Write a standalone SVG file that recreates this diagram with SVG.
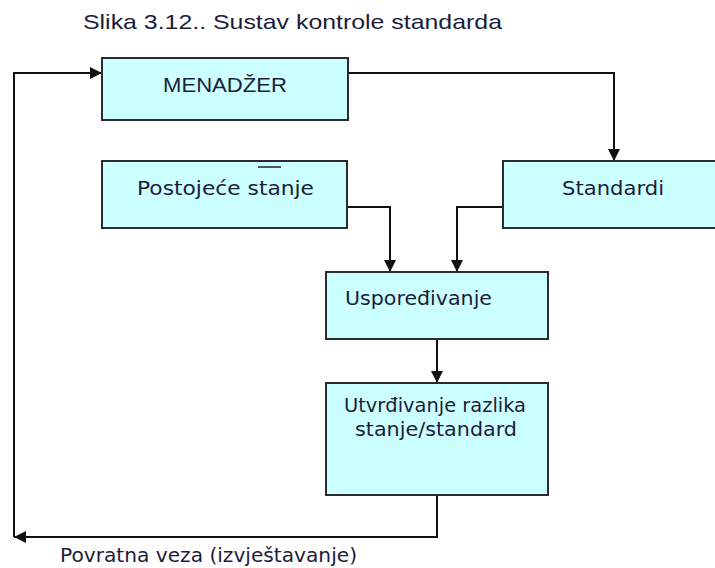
<svg xmlns="http://www.w3.org/2000/svg" width="715" height="568" viewBox="0 0 715 568">
<style>
.box{fill:#ccffff;stroke:#2b2b2b;stroke-width:2}
.lbl{font-family:"DejaVu Sans","Liberation Sans",sans-serif;font-size:20px;fill:#1c1c3c}
.sans{font-family:"Liberation Sans",Arial,sans-serif;font-size:21px;fill:#1c1c3c}
.con{fill:none;stroke:#111;stroke-width:2}
</style>
<defs>
<marker id="ah" viewBox="0 0 12 12" refX="12" refY="6" markerWidth="12" markerHeight="12" markerUnits="userSpaceOnUse" orient="auto">
<path d="M0,0 L12,6 L0,12 Z" fill="#111"/>
</marker>
</defs>
<rect width="715" height="568" fill="#fff"/>
<text class="sans" x="83" y="29" font-size="22" textLength="419" lengthAdjust="spacingAndGlyphs">Slika 3.12.. Sustav kontrole standarda</text>
<g id="connectors">
<path class="con" d="M14,537 L14,73 L102,73" marker-end="url(#ah)"/>
<path class="con" d="M348,73 L614,73 L614,161" marker-end="url(#ah)"/>
<path class="con" d="M347,207 L390,207 L390,272" marker-end="url(#ah)"/>
<path class="con" d="M503,207 L457,207 L457,272" marker-end="url(#ah)"/>
<path class="con" d="M437,339 L437,383" marker-end="url(#ah)"/>
<path class="con" d="M437,495 L437,537 L14,537" marker-end="url(#ah)"/>
</g>
<g id="menadzer">
<rect class="box" x="102" y="58" width="246" height="62"/>
<text class="sans" x="163" y="92" textLength="124" lengthAdjust="spacingAndGlyphs">MENADŽER</text>
</g>
<g id="postojece">
<rect class="box" x="102" y="161" width="245" height="67"/>
<line x1="258" y1="167" x2="281" y2="167" stroke="#222" stroke-width="1.5"/>
<text class="lbl" x="137" y="195" textLength="177" lengthAdjust="spacingAndGlyphs">Postojeće stanje</text>
</g>
<g id="standardi">
<rect class="box" x="503" y="161" width="214" height="67"/>
<text class="lbl" x="562" y="195" textLength="102" lengthAdjust="spacingAndGlyphs">Standardi</text>
</g>
<g id="usporedjivanje">
<rect class="box" x="326" y="272" width="222" height="67"/>
<text class="lbl" x="345" y="305" textLength="147" lengthAdjust="spacingAndGlyphs">Uspoređivanje</text>
</g>
<g id="utvrdjivanje">
<rect class="box" x="326" y="383" width="222" height="112"/>
<text class="lbl" x="344" y="412" textLength="182" lengthAdjust="spacingAndGlyphs">Utvrđivanje razlika</text>
<text class="lbl" x="355" y="436" textLength="162" lengthAdjust="spacingAndGlyphs">stanje/standard</text>
</g>
<text class="lbl" x="60" y="562" textLength="297" lengthAdjust="spacingAndGlyphs">Povratna veza (izvještavanje)</text>
</svg>
